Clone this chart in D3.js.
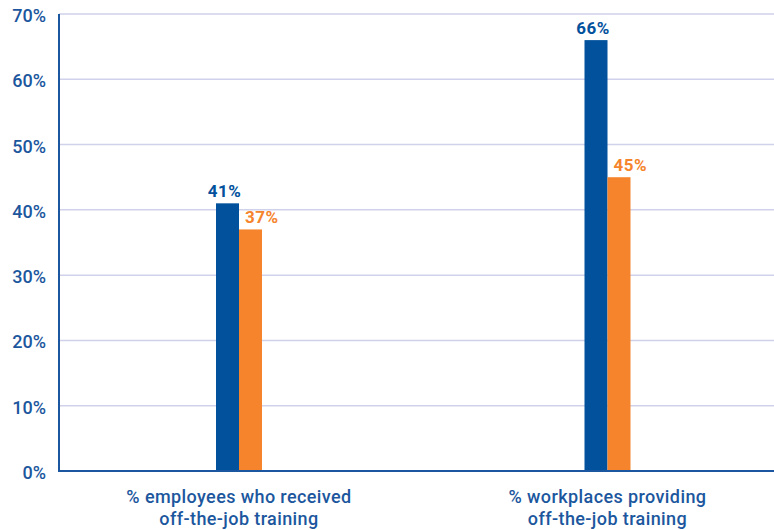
<!DOCTYPE html>
<html>
<head>
<meta charset="utf-8">
<script src="https://cdn.jsdelivr.net/npm/d3@7"></script>
<style>
  html, body { margin: 0; padding: 0; background: #fff; }
  svg { display: block; }
  text { font-family: Roboto, "Noto Sans", sans-serif; }
</style>
</head>
<body>
<svg id="chart" width="774" height="530"></svg>
<script>
// Categories (two lines each) and the two series
const categories = [
  ["% employees who received", "off-the-job training"],
  ["% workplaces providing", "off-the-job training"]
];
const seriesA = [41, 66];   // blue
const seriesB = [37, 45];   // orange
const yTicks = [0, 10, 20, 30, 40, 50, 60, 70];

const colorA = "#02519c";
const colorB = "#f5842c";
const textBlue = "#1c579e";
const gridColor = "#cfd2ea";

const svg = d3.select("#chart");
const plotLeft = 59, plotRight = 774, plotTop = 14, plotBottom = 471;

const y = d3.scaleLinear().domain([0, 70]).range([plotBottom, plotTop]);

// group positions along the baseline
const x0 = d3.scaleBand()
  .domain(d3.range(categories.length))
  .range([54.75, 791.75])
  .paddingInner(0).paddingOuter(0);
const barW = 23;

// gridlines
svg.append("g")
  .selectAll("line")
  .data(yTicks.filter(d => d > 0))
  .join("line")
  .attr("x1", plotLeft).attr("x2", plotRight)
  .attr("y1", d => y(d)).attr("y2", d => y(d))
  .attr("stroke", gridColor).attr("stroke-width", 1.5);

// y axis tick labels
const yAxis = d3.axisLeft(y).tickValues(yTicks).tickSize(0).tickPadding(13)
  .tickFormat(d => d + "%");
const gy = svg.append("g").attr("transform", `translate(${plotLeft},0)`).call(yAxis);
gy.select(".domain").remove();
gy.selectAll("text")
  .attr("fill", textBlue)
  .attr("font-size", 18)
  .attr("font-weight", 500)
  .attr("dy", "0.42em")
  .style("font-family", "Roboto, sans-serif");

// bars
const groups = svg.append("g").selectAll("g")
  .data(categories.map((c, i) => ({ i, a: seriesA[i], b: seriesB[i] })))
  .join("g");

groups.append("rect")
  .attr("x", d => x0(d.i) + x0.bandwidth() / 2 - barW)
  .attr("width", barW)
  .attr("y", d => y(d.a))
  .attr("height", d => y(0) - y(d.a))
  .attr("fill", colorA);

groups.append("rect")
  .attr("x", d => x0(d.i) + x0.bandwidth() / 2)
  .attr("width", barW)
  .attr("y", d => y(d.b))
  .attr("height", d => y(0) - y(d.b))
  .attr("fill", colorB);

// value labels
groups.append("text")
  .attr("x", d => x0(d.i) + x0.bandwidth() / 2 - barW / 2 - 3)
  .attr("y", d => y(d.a) - 6)
  .attr("text-anchor", "middle")
  .attr("font-size", 17)
  .attr("font-weight", 700)
  .attr("letter-spacing", 0.5)
  .attr("fill", colorA)
  .text(d => d.a + "%");

groups.append("text")
  .attr("x", d => x0(d.i) + x0.bandwidth() / 2 + 6)
  .attr("y", d => y(d.b) - 6)
  .attr("text-anchor", "start")
  .attr("font-size", 17)
  .attr("font-weight", 700)
  .attr("letter-spacing", 0.5)
  .attr("fill", colorB)
  .text(d => d.b + "%");

// axis lines
svg.append("line")
  .attr("x1", plotLeft).attr("x2", plotLeft)
  .attr("y1", plotTop).attr("y2", plotBottom + 1)
  .attr("stroke", "#1b56a0").attr("stroke-width", 2);
svg.append("line")
  .attr("x1", plotLeft - 1).attr("x2", plotRight)
  .attr("y1", plotBottom).attr("y2", plotBottom)
  .attr("stroke", "#1b56a0").attr("stroke-width", 2);

// category labels
const catLabels = svg.append("g").selectAll("text")
  .data(categories)
  .join("text")
  .attr("x", (d, i) => x0(i) + x0.bandwidth() / 2)
  .attr("y", 503)
  .attr("text-anchor", "middle")
  .attr("font-size", 18)
  .attr("font-weight", 500)
  .attr("letter-spacing", 0.4)
  .attr("fill", textBlue);
catLabels.selectAll("tspan")
  .data(d => d)
  .join("tspan")
  .attr("x", function () { return d3.select(this.parentNode).attr("x"); })
  .attr("dy", (d, j) => j === 0 ? 0 : 22)
  .text(d => d);
</script>
</body>
</html>
